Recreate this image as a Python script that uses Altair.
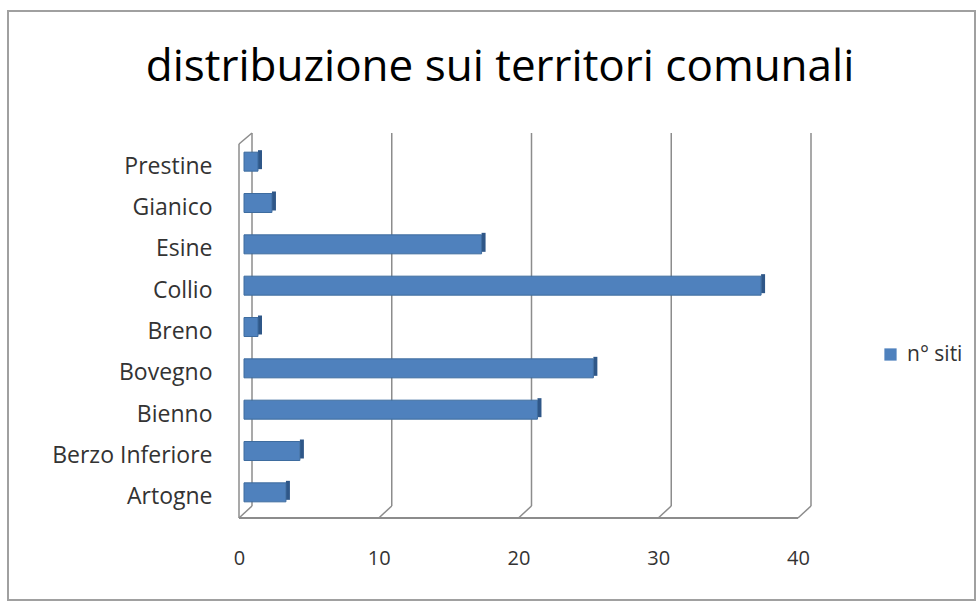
import altair as alt
import pandas as pd

comuni = ["Prestine", "Gianico", "Esine", "Collio", "Breno", "Bovegno", "Bienno", "Berzo Inferiore", "Artogne"]
siti = [1, 2, 17, 37, 1, 25, 21, 4, 3]
serie = "n° siti"
ticks = [0, 10, 20, 30, 40]
titolo = "distribuzione sui territori comunali"

W, H = 559, 372
LEFT, TOP = 239, 146
DEPTH_X, DEPTH_Y = 13, 12
FONT = "Open Sans"
GRID = "#8c8c8c"
TXT = "#333333"

df = pd.DataFrame({"comune": comuni, "siti": siti, "serie": [serie] * len(comuni)})
tk = pd.DataFrame({"t": ticks})
one = pd.DataFrame({"a": [0]})

xs = alt.Scale(domain=[0, 40], nice=False)
ys = alt.Scale(domain=comuni, paddingInner=0, paddingOuter=0)

# outer frame
frame = alt.Chart(one).mark_rect(fill="white", fillOpacity=0, stroke="#a0a0a0", strokeWidth=2).encode(
    x=alt.value(8 - LEFT), x2=alt.value(975 - LEFT), y=alt.value(11 - TOP), y2=alt.value(600 - TOP)
)

title = alt.Chart(pd.DataFrame({"t": [titolo]})).mark_text(
    font=FONT, fontSize=44, color="#000000", baseline="alphabetic", align="center"
).encode(text="t:N", x=alt.value(500 - LEFT), y=alt.value(81 - TOP))

# back wall gridlines
grid = alt.Chart(tk).mark_rule(color=GRID, strokeWidth=1.5, xOffset=DEPTH_X).encode(
    x=alt.X("t:Q", scale=xs, axis=alt.Axis(values=ticks, title=None, grid=False, domain=False, ticks=False,
                                            labelFont=FONT, labelFontSize=20, labelColor=TXT,
                                            labelPadding=30, labelFlush=False)),
    y=alt.value(-DEPTH_Y - 1), y2=alt.value(H - DEPTH_Y),
)
# floor diagonals
diag = alt.Chart(tk).mark_rule(color=GRID, strokeWidth=1.5, x2Offset=DEPTH_X).encode(
    x=alt.X("t:Q", scale=xs), x2="t:Q", y=alt.value(H), y2=alt.value(H - DEPTH_Y)
)
# front floor edge
floor = alt.Chart(one).mark_rule(color=GRID, strokeWidth=2).encode(
    x=alt.value(0), x2=alt.value(W), y=alt.value(H)
)
# left wall
wall = alt.Chart(one).mark_rule(color=GRID, strokeWidth=1.5).encode(
    x=alt.value(0), y=alt.value(-2), y2=alt.value(H)
)
wall_top = alt.Chart(one).mark_rule(color=GRID, strokeWidth=1.5).encode(
    x=alt.value(0), x2=alt.value(DEPTH_X), y=alt.value(-2), y2=alt.value(-DEPTH_Y - 1)
)

bars = alt.Chart(df).mark_bar(size=19, xOffset=5, x2Offset=5, yOffset=-5, stroke="#3e6c9f", strokeWidth=1).encode(
    x=alt.X("siti:Q", scale=xs),
    y=alt.Y("comune:N", scale=ys, sort=comuni,
            axis=alt.Axis(title=None, domain=False, ticks=False, labelFont=FONT, labelFontSize=23,
                          labelColor=TXT, labelPadding=27)),
    color=alt.Color("serie:N", scale=alt.Scale(range=["#4F81BD"]),
                    legend=alt.Legend(orient="none", legendX=641, legendY=198, title=None, padding=0,
                                      symbolType="square", symbolSize=150, symbolStrokeWidth=0,
                                      symbolOffset=0, labelOffset=6,
                                      labelFont=FONT, labelFontSize=21, labelColor=TXT)),
)
side = alt.Chart(df).mark_bar(size=19, xOffset=5, x2Offset=9, yOffset=-7, color="#2f5788").encode(
    x=alt.X("siti:Q", scale=xs), x2="siti:Q",
    y=alt.Y("comune:N", scale=ys, sort=comuni),
)

chart = alt.layer(frame, title, grid, diag, floor, wall, wall_top, side, bars).properties(
    width=W, height=H,
    background="white",
    autosize=alt.AutoSizeParams(type="none"),
    padding={"left": LEFT, "top": TOP, "right": 978 - LEFT - W, "bottom": 605 - TOP - H},
).configure_view(stroke="transparent", strokeWidth=0).configure_axis(grid=False)

chart.save("out.html", embed_options={"renderer": "svg", "actions": False})
